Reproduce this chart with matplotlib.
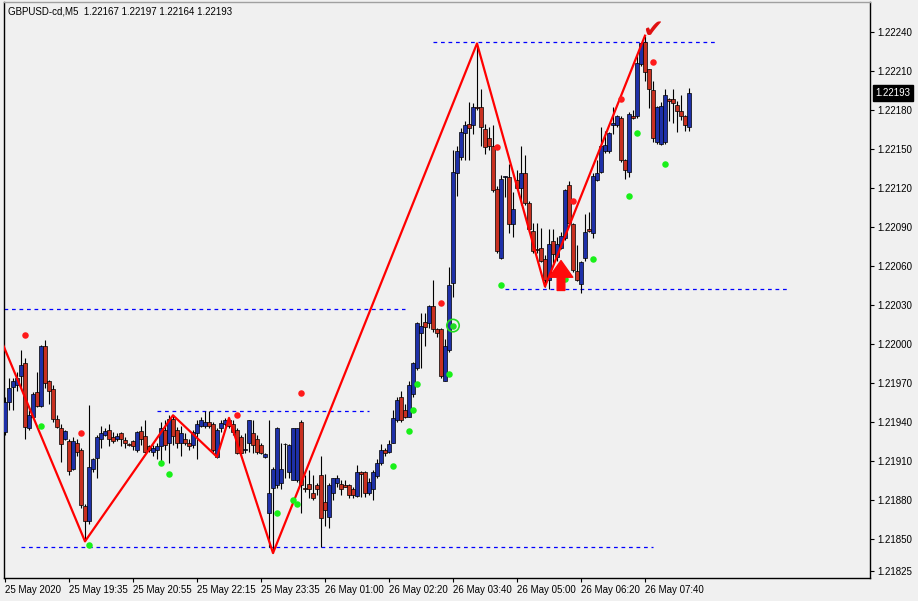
import matplotlib.pyplot as plt
import matplotlib.transforms as mtransforms
import numpy as np

# ── Data: GBPUSD M5 candles ──────────────────────────────────
opens = [
    1.21932, 1.21955, 1.21967, 1.21968, 1.21975, 1.21985, 1.21935, 1.21944, 1.21963, 1.21952,
    1.21998, 1.21971, 1.21965, 1.21942, 1.21935, 1.21927, 1.21925, 1.21904, 1.21924, 1.21918,
    1.21875, 1.21864, 1.21904, 1.21912, 1.21927, 1.21930, 1.21934, 1.21928, 1.21927, 1.21931,
    1.21926, 1.21923, 1.21925, 1.21918, 1.21933, 1.21929, 1.21921, 1.21917, 1.21918, 1.21921,
    1.21934, 1.21924, 1.21942, 1.21934, 1.21924, 1.21927, 1.21924, 1.21922, 1.21931, 1.21937,
    1.21937, 1.21940, 1.21938, 1.21913, 1.21935, 1.21938, 1.21941, 1.21938, 1.21934, 1.21928,
    1.21918, 1.21924, 1.21931, 1.21927, 1.21922, 1.21913, 1.21870, 1.21889, 1.21891, 1.21893,
    1.21923, 1.21901, 1.21895, 1.21895, 1.21940, 1.21889, 1.21892, 1.21885, 1.21891, 1.21899,
    1.21878, 1.21867, 1.21885, 1.21893, 1.21892, 1.21891, 1.21891, 1.21888, 1.21883, 1.21901,
    1.21901, 1.21885, 1.21888, 1.21898, 1.21908, 1.21918, 1.21917, 1.21924, 1.21941, 1.21959,
    1.21949, 1.21944, 1.21961, 1.21981, 1.22008, 1.22017, 1.22016, 1.22029, 1.22011, 1.22011,
    1.21971, 1.21995, 1.22047, 1.22131, 1.22144, 1.22162, 1.22169, 1.22168, 1.22182, 1.22182,
    1.22165, 1.22158, 1.22152, 1.22119, 1.22066, 1.22128, 1.22128, 1.22092, 1.22126, 1.22120,
    1.22131, 1.22108, 1.22087, 1.22073, 1.22074, 1.22065, 1.22049, 1.22079, 1.22067, 1.22074,
    1.22081, 1.22122, 1.22092, 1.22056, 1.22046, 1.22066, 1.22088, 1.22085, 1.22126, 1.22132,
    1.22148, 1.22148, 1.22168, 1.22168, 1.22174, 1.22141, 1.22132, 1.22175, 1.22175, 1.22215,
    1.22232, 1.22211, 1.22195, 1.22155, 1.22154, 1.22155, 1.22188, 1.22188, 1.22184, 1.22179,
    1.22175, 1.22167,
]
highs = [
    1.21959, 1.21974, 1.21974, 1.21978, 1.21995, 1.21989, 1.21949, 1.21963, 1.21978, 1.21999,
    1.22003, 1.21972, 1.21968, 1.21945, 1.21938, 1.21934, 1.21927, 1.21928, 1.21927, 1.21920,
    1.21877, 1.21953, 1.21912, 1.21930, 1.21937, 1.21935, 1.21938, 1.21932, 1.21931, 1.21932,
    1.21928, 1.21924, 1.21926, 1.21933, 1.21937, 1.21941, 1.21922, 1.21922, 1.21924, 1.21940,
    1.21941, 1.21945, 1.21945, 1.21936, 1.21937, 1.21931, 1.21927, 1.21934, 1.21941, 1.21944,
    1.21948, 1.21948, 1.21940, 1.21935, 1.21941, 1.21943, 1.21943, 1.21941, 1.21935, 1.21930,
    1.21931, 1.21941, 1.21941, 1.21930, 1.21924, 1.21916, 1.21941, 1.21905, 1.21936, 1.21924,
    1.21924, 1.21923, 1.21935, 1.21935, 1.21941, 1.21899, 1.21903, 1.21899, 1.21893, 1.21914,
    1.21900, 1.21893, 1.21897, 1.21899, 1.21895, 1.21895, 1.21892, 1.21890, 1.21907, 1.21902,
    1.21902, 1.21897, 1.21903, 1.21911, 1.21923, 1.21920, 1.21926, 1.21949, 1.21959, 1.21964,
    1.21954, 1.21971, 1.21986, 1.22017, 1.22024, 1.22024, 1.22030, 1.22049, 1.22012, 1.22012,
    1.22004, 1.22059, 1.22149, 1.22152, 1.22166, 1.22171, 1.22186, 1.22185, 1.22231, 1.22196,
    1.22169, 1.22167, 1.22168, 1.22121, 1.22130, 1.22129, 1.22138, 1.22117, 1.22134, 1.22152,
    1.22145, 1.22110, 1.22093, 1.22093, 1.22089, 1.22068, 1.22088, 1.22088, 1.22082, 1.22086,
    1.22119, 1.22125, 1.22093, 1.22076, 1.22064, 1.22100, 1.22101, 1.22131, 1.22141, 1.22167,
    1.22164, 1.22163, 1.22182, 1.22176, 1.22175, 1.22142, 1.22178, 1.22180, 1.22223, 1.22231,
    1.22237, 1.22211, 1.22202, 1.22183, 1.22186, 1.22196, 1.22189, 1.22196, 1.22187, 1.22191,
    1.22176, 1.22197,
]
lows = [
    1.21930, 1.21949, 1.21949, 1.21964, 1.21967, 1.21927, 1.21934, 1.21943, 1.21951, 1.21951,
    1.21966, 1.21954, 1.21940, 1.21935, 1.21909, 1.21926, 1.21899, 1.21903, 1.21914, 1.21874,
    1.21848, 1.21861, 1.21901, 1.21897, 1.21920, 1.21929, 1.21921, 1.21924, 1.21925, 1.21921,
    1.21920, 1.21921, 1.21918, 1.21917, 1.21922, 1.21916, 1.21917, 1.21914, 1.21911, 1.21908,
    1.21918, 1.21908, 1.21922, 1.21920, 1.21914, 1.21922, 1.21918, 1.21920, 1.21911, 1.21936,
    1.21935, 1.21935, 1.21917, 1.21912, 1.21932, 1.21937, 1.21935, 1.21930, 1.21915, 1.21914,
    1.21916, 1.21917, 1.21916, 1.21915, 1.21915, 1.21912, 1.21844, 1.21839, 1.21889, 1.21888,
    1.21897, 1.21897, 1.21895, 1.21894, 1.21870, 1.21886, 1.21881, 1.21880, 1.21884, 1.21844,
    1.21860, 1.21858, 1.21880, 1.21890, 1.21884, 1.21890, 1.21881, 1.21881, 1.21882, 1.21882,
    1.21882, 1.21884, 1.21880, 1.21897, 1.21907, 1.21914, 1.21916, 1.21924, 1.21940, 1.21940,
    1.21943, 1.21944, 1.21959, 1.21980, 1.21981, 1.21998, 1.22012, 1.22009, 1.22005, 1.21974,
    1.21971, 1.21994, 1.22036, 1.22114, 1.22141, 1.22141, 1.22141, 1.22161, 1.22180, 1.22152,
    1.22146, 1.22149, 1.22117, 1.22070, 1.22065, 1.22113, 1.22085, 1.22082, 1.22118, 1.22107,
    1.22107, 1.22086, 1.22070, 1.22070, 1.22063, 1.22044, 1.22042, 1.22062, 1.22064, 1.22073,
    1.22080, 1.22092, 1.22055, 1.22048, 1.22039, 1.22064, 1.22086, 1.22081, 1.22125, 1.22131,
    1.22147, 1.22147, 1.22161, 1.22167, 1.22140, 1.22127, 1.22128, 1.22173, 1.22174, 1.22214,
    1.22202, 1.22181, 1.22155, 1.22154, 1.22153, 1.22154, 1.22171, 1.22170, 1.22163, 1.22172,
    1.22164, 1.22164,
]
closes = [
    1.21955, 1.21966, 1.21971, 1.21974, 1.21984, 1.21936, 1.21945, 1.21961, 1.21952, 1.21998,
    1.21970, 1.21964, 1.21942, 1.21936, 1.21923, 1.21933, 1.21902, 1.21925, 1.21917, 1.21876,
    1.21864, 1.21905, 1.21911, 1.21928, 1.21931, 1.21933, 1.21927, 1.21925, 1.21929, 1.21927,
    1.21924, 1.21922, 1.21921, 1.21932, 1.21927, 1.21917, 1.21918, 1.21920, 1.21921, 1.21935,
    1.21922, 1.21942, 1.21929, 1.21924, 1.21931, 1.21924, 1.21921, 1.21932, 1.21938, 1.21941,
    1.21940, 1.21937, 1.21918, 1.21934, 1.21939, 1.21941, 1.21937, 1.21932, 1.21916, 1.21916,
    1.21919, 1.21941, 1.21922, 1.21917, 1.21916, 1.21915, 1.21885, 1.21904, 1.21935, 1.21904,
    1.21923, 1.21922, 1.21935, 1.21935, 1.21891, 1.21888, 1.21888, 1.21881, 1.21888, 1.21866,
    1.21872, 1.21891, 1.21897, 1.21897, 1.21888, 1.21890, 1.21884, 1.21884, 1.21901, 1.21900,
    1.21885, 1.21894, 1.21901, 1.21908, 1.21918, 1.21916, 1.21923, 1.21943, 1.21957, 1.21941,
    1.21944, 1.21968, 1.21985, 1.22016, 1.22014, 1.22013, 1.22029, 1.22011, 1.22008, 1.21975,
    1.21998, 1.22045, 1.22132, 1.22148, 1.22163, 1.22168, 1.22166, 1.22182, 1.22181, 1.22167,
    1.22151, 1.22152, 1.22118, 1.22071, 1.22127, 1.22129, 1.22092, 1.22104, 1.22120, 1.22131,
    1.22108, 1.22088, 1.22071, 1.22072, 1.22064, 1.22049, 1.22077, 1.22069, 1.22077, 1.22083,
    1.22118, 1.22093, 1.22057, 1.22049, 1.22063, 1.22086, 1.22087, 1.22129, 1.22131, 1.22152,
    1.22153, 1.22162, 1.22170, 1.22175, 1.22141, 1.22134, 1.22177, 1.22174, 1.22216, 1.22231,
    1.22209, 1.22196, 1.22158, 1.22182, 1.22183, 1.22191, 1.22187, 1.22185, 1.22179, 1.22175,
    1.22168, 1.22193,
]

time_labels = ["25 May 2020", "25 May 19:35", "25 May 20:55", "25 May 22:15",
               "25 May 23:35", "26 May 01:00", "26 May 02:20", "26 May 03:40",
               "26 May 05:00", "26 May 06:20", "26 May 07:40"]
time_bars = [0, 16, 32, 48, 64, 80, 96, 112, 128, 144, 160]

price_ticks = [1.21825, 1.21850, 1.21880, 1.21910, 1.21940, 1.21970, 1.22000,
               1.22030, 1.22060, 1.22090, 1.22120, 1.22150, 1.22180, 1.22210, 1.22240]

# zigzag swing points (bar index, price)
zz_bars = [-1, 20, 42, 53, 56, 67, 118, 135, 160]
zz_prices = [1.22003, 1.21848, 1.21945, 1.21913, 1.21943, 1.21839, 1.22231, 1.22044, 1.22237]

# support / resistance levels (price, from bar, to bar)
lvl_prices = [1.22027, 1.21948, 1.21844, 1.22232, 1.22042]
lvl_start = [-0.25, 38, 4, 107, 125]
lvl_end = [100, 91, 162, 178, 196]

red_dot_bars = [5, 19, 58, 74, 109, 123, 142, 154, 162]
red_dot_prices = [1.22007, 1.21931, 1.21945, 1.21962, 1.22031, 1.22151, 1.22110, 1.22188, 1.22217]

green_dot_bars = [9, 21, 39, 41, 68, 72, 73, 97, 101, 102, 103, 111, 124, 140, 147, 156, 158, 165]
green_dot_prices = [1.21937, 1.21845, 1.21908, 1.21900, 1.21870, 1.21880, 1.21877, 1.21906,
                    1.21933, 1.21949, 1.21969, 1.21977, 1.22045, 1.22050, 1.22065, 1.22114,
                    1.22162, 1.22138]

ring_bar, ring_price = 112, 1.22014
arrow_bar, arrow_base, arrow_tip = 139, 1.22041, 1.22064
check_bar, check_price = 162, 1.22241
last_price = 1.22193

BG = "#F0F0F0"
BULL = "#1E30A8"
BEAR = "#C83020"

# ── Figure ──────────────────────────────────────────────────
plt.rcParams["font.family"] = ["Liberation Sans", "DejaVu Sans"]
fig = plt.figure(figsize=(9.18, 6.01), dpi=100, facecolor=BG)
ax = fig.add_axes([4 / 918, 23 / 601, 866 / 918, 576 / 601])
ax.set_facecolor(BG)

o = np.array(opens)
h = np.array(highs)
l = np.array(lows)
c = np.array(closes)
x = np.arange(len(o))

# candles
ax.vlines(x, l, h, color="black", lw=0.8, zorder=2)
body_col = np.where(c >= o, BULL, BEAR)
ax.bar(x, np.abs(c - o), bottom=np.minimum(o, c), width=0.8,
       color=body_col, edgecolor="black", linewidth=0.5, zorder=3)

# levels
for p, a, b in zip(lvl_prices, lvl_start, lvl_end):
    ax.hlines(p, a, b, colors="#0000FF", lw=0.9, linestyles=(0, (3, 3)), zorder=1)

# zigzag
ax.plot(zz_bars, zz_prices, color="#FF0000", lw=1.6, zorder=4)

# signal dots
ax.scatter(red_dot_bars, red_dot_prices, s=22, color="#FF1A1A", zorder=5, linewidths=0)
ax.scatter(green_dot_bars, green_dot_prices, s=22, color="#19F019", zorder=5, linewidths=0)
ax.scatter([ring_bar], [ring_price], s=80, facecolors="none", edgecolors="#22DD22", lw=1.2, zorder=5)
ax.scatter([ring_bar], [ring_price], s=22, color="#22DD22", zorder=5, linewidths=0)

# buy arrow
ax.annotate("", xy=(arrow_bar, arrow_tip), xytext=(arrow_bar, arrow_base),
            arrowprops=dict(arrowstyle="simple,head_length=1.2,head_width=1.7,tail_width=0.55",
                            mutation_scale=10, color="#FF0A0A", shrinkA=0, shrinkB=0),
            zorder=6)
ax.text(check_bar, check_price, "\u2714", color="#E01010", fontsize=18,
        ha="center", va="center", family="DejaVu Sans", zorder=6)

# axes
ax.set_xlim(-0.25, 216.25)
ax.set_ylim(1.2181982, 1.2226290)
ax.yaxis.tick_right()
ax.set_yticks(price_ticks)
ax.set_yticklabels([f"{p:.5f}" for p in price_ticks])
ax.set_xticks(time_bars)
ax.set_xticklabels(time_labels, ha="left")
ax.tick_params(axis="both", direction="out", length=3, width=0.8, colors="black",
               labelsize=7, pad=2)
for s in ax.spines.values():
    s.set_color("black")
    s.set_linewidth(1)
ax.spines["top"].set_color("#A0A0A0")

# last price box
trans = mtransforms.blended_transform_factory(ax.transAxes, ax.transData)
ax.text(1.0, last_price, "1.22193",
        transform=trans + mtransforms.ScaledTranslation(4 / 72, 0, fig.dpi_scale_trans),
        color="white", fontsize=7, ha="left", va="center",
        bbox=dict(boxstyle="square,pad=0.3", fc="black", ec="black"))

fig.text(8 / 918, 1 - 12 / 601, "GBPUSD-cd,M5  1.22167 1.22197 1.22164 1.22193",
         fontsize=7, ha="left", va="center", color="black")

plt.savefig("out.png", dpi=100, facecolor=BG)
